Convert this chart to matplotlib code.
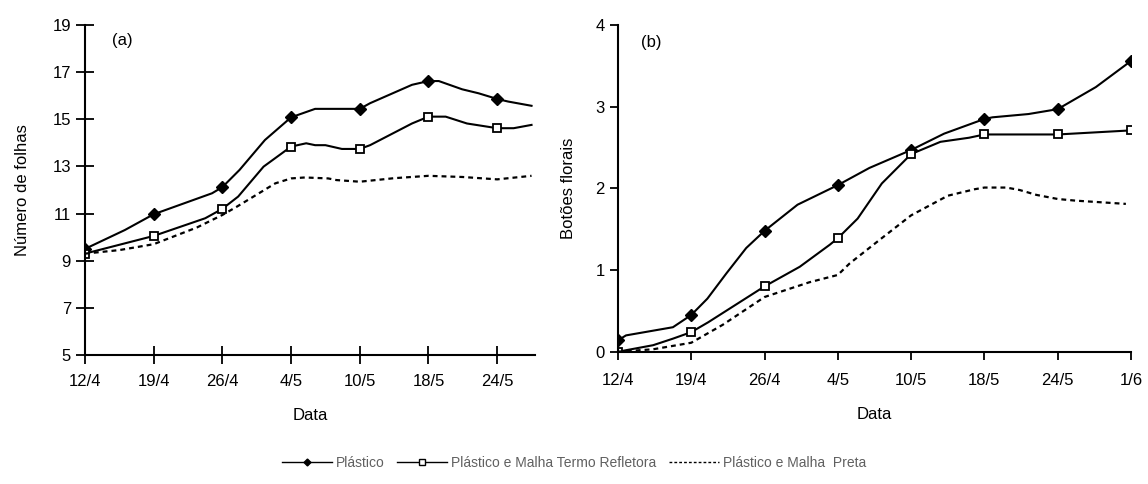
import matplotlib.pyplot as plt
from matplotlib.lines import Line2D

plt.rcParams['font.family'] = ['Liberation Sans', 'DejaVu Sans']

# category positions (0 = first date tick)
datas_a = ["12/4", "19/4", "26/4", "4/5", "10/5", "18/5", "24/5"]
datas_b = ["12/4", "19/4", "26/4", "4/5", "10/5", "18/5", "24/5", "1/6"]

# (a) Número de folhas
fa_plast_x = [0, 0.58, 1, 1.85, 2, 2.25, 2.62, 3, 3.35, 4, 4.15, 4.76, 5, 5.15, 5.49, 5.73, 6, 6.16, 6.5]
fa_plast_y = [9.5, 10.3, 10.97, 11.86, 12.12, 12.85, 14.12, 15.08, 15.44, 15.44, 15.68, 16.46, 16.62, 16.62,
              16.27, 16.1, 15.86, 15.75, 15.57]
fa_termo_x = [0, 1, 1.75, 2, 2.23, 2.6, 3, 3.22, 3.35, 3.5, 3.74, 4, 4.15, 4.76, 5, 5.25, 5.56, 6, 6.24, 6.5]
fa_termo_y = [9.3, 10.05, 10.8, 11.2, 11.72, 12.99, 13.84, 13.98, 13.9, 13.9, 13.74, 13.74, 13.9, 14.82,
              15.11, 15.11, 14.82, 14.62, 14.62, 14.76]
fa_preta_x = [0, 0.5, 1, 1.63, 2, 2.21, 2.77, 3, 3.2, 3.54, 3.66, 4, 4.5, 5, 5.5, 6, 6.5]
fa_preta_y = [9.3, 9.45, 9.7, 10.41, 10.94, 11.29, 12.28, 12.49, 12.53, 12.49, 12.42, 12.35, 12.5, 12.6,
              12.55, 12.45, 12.6]

# (b) Botões florais
fb_plast_x = [0, 0.11, 0.75, 1, 1.22, 1.48, 1.75, 2, 2.45, 3, 3.43, 4, 4.45, 5, 5.11, 5.6, 6, 6.52, 7]
fb_plast_y = [0.14, 0.2, 0.3, 0.45, 0.65, 0.96, 1.27, 1.48, 1.8, 2.04, 2.25, 2.47, 2.67, 2.85, 2.87, 2.91,
              2.97, 3.24, 3.56]
fb_termo_x = [0, 0.48, 0.75, 1, 1.23, 2, 2.48, 2.89, 3, 3.27, 3.6, 4, 4.4, 4.79, 5, 6, 7]
fb_termo_y = [0, 0.08, 0.16, 0.24, 0.36, 0.8, 1.04, 1.31, 1.39, 1.63, 2.06, 2.42, 2.57, 2.62, 2.66, 2.66, 2.71]
fb_preta_x = [0, 0.48, 1, 1.43, 2, 2.61, 3, 3.16, 3.57, 4, 4.5, 4.87, 5, 5.3, 5.48, 5.71, 6, 6.24, 6.93]
fb_preta_y = [0, 0.03, 0.11, 0.33, 0.67, 0.85, 0.94, 1.08, 1.37, 1.67, 1.91, 1.99, 2.01, 2.01, 1.98, 1.92,
              1.87, 1.85, 1.81]

legenda = ["Plástico", "Plástico e Malha Termo Refletora", "Plástico e Malha  Preta"]


def marks(x):
    return [i for i, v in enumerate(x) if float(v).is_integer()]


def draw(ax, series):
    (xp, yp), (xt, yt), (xq, yq) = series
    ax.plot(xp, yp, color='black', lw=1.5, marker='D', ms=6, mfc='black', mec='black',
            markevery=marks(xp))
    ax.plot(xt, yt, color='black', lw=1.5, marker='s', ms=6, mfc='white', mec='black', mew=1.3,
            markevery=marks(xt))
    ax.plot(xq, yq, color='black', lw=1.6, ls=(0, (2.2, 1.8)))
    for s in ['top', 'right']:
        ax.spines[s].set_visible(False)
    for s in ['left', 'bottom']:
        ax.spines[s].set_linewidth(1.5)
    ax.tick_params(labelsize=12, width=1.3)


fig = plt.figure(figsize=(11.48, 4.84), dpi=100)

ax1 = fig.add_axes([0.074, 0.2665, 0.392, 0.682])
draw(ax1, [(fa_plast_x, fa_plast_y), (fa_termo_x, fa_termo_y), (fa_preta_x, fa_preta_y)])
ax1.set_xlim(0, 6.55)
ax1.set_ylim(5, 19)
ax1.set_yticks([5, 7, 9, 11, 13, 15, 17, 19])
ax1.set_xticks(range(len(datas_a)))
ax1.set_xticklabels(datas_a)
ax1.tick_params(direction='inout', length=13)
ax1.tick_params(axis='x', pad=7)
ax1.set_ylabel("Número de folhas", fontsize=12, labelpad=16)
ax1.set_xlabel("Data", fontsize=12, labelpad=14)
ax1.text(0.55, 18.35, "(a)", fontsize=12, ha='center', va='center')

ax2 = fig.add_axes([0.5383, 0.2733, 0.4469, 0.675])
draw(ax2, [(fb_plast_x, fb_plast_y), (fb_termo_x, fb_termo_y), (fb_preta_x, fb_preta_y)])
ax2.set_xlim(0, 7)
ax2.set_ylim(0, 4)
ax2.set_yticks([0, 1, 2, 3, 4])
ax2.set_xticks(range(len(datas_b)))
ax2.set_xticklabels(datas_b)
ax2.tick_params(direction='out', length=6)
ax2.tick_params(axis='x', pad=9)
ax2.set_ylabel("Botões florais", fontsize=12, labelpad=14)
ax2.set_xlabel("Data", fontsize=12, labelpad=14)
ax2.text(0.46, 3.78, "(b)", fontsize=12, ha='center', va='center')

handles = [
    Line2D([], [], color='black', lw=1, marker='D', ms=3.5),
    Line2D([], [], color='black', lw=1, marker='s', ms=4, mfc='white'),
    Line2D([], [], color='black', lw=1, ls=(0, (2, 1.5))),
]
leg = fig.legend(handles, legenda, loc='center', bbox_to_anchor=(0.5, 0.043), ncol=3, frameon=False,
                 fontsize=10, handlelength=3.6, handletextpad=0.3, columnspacing=0.9)
for t in leg.get_texts():
    t.set_color('#606060')

fig.savefig("out.png", dpi=100)
